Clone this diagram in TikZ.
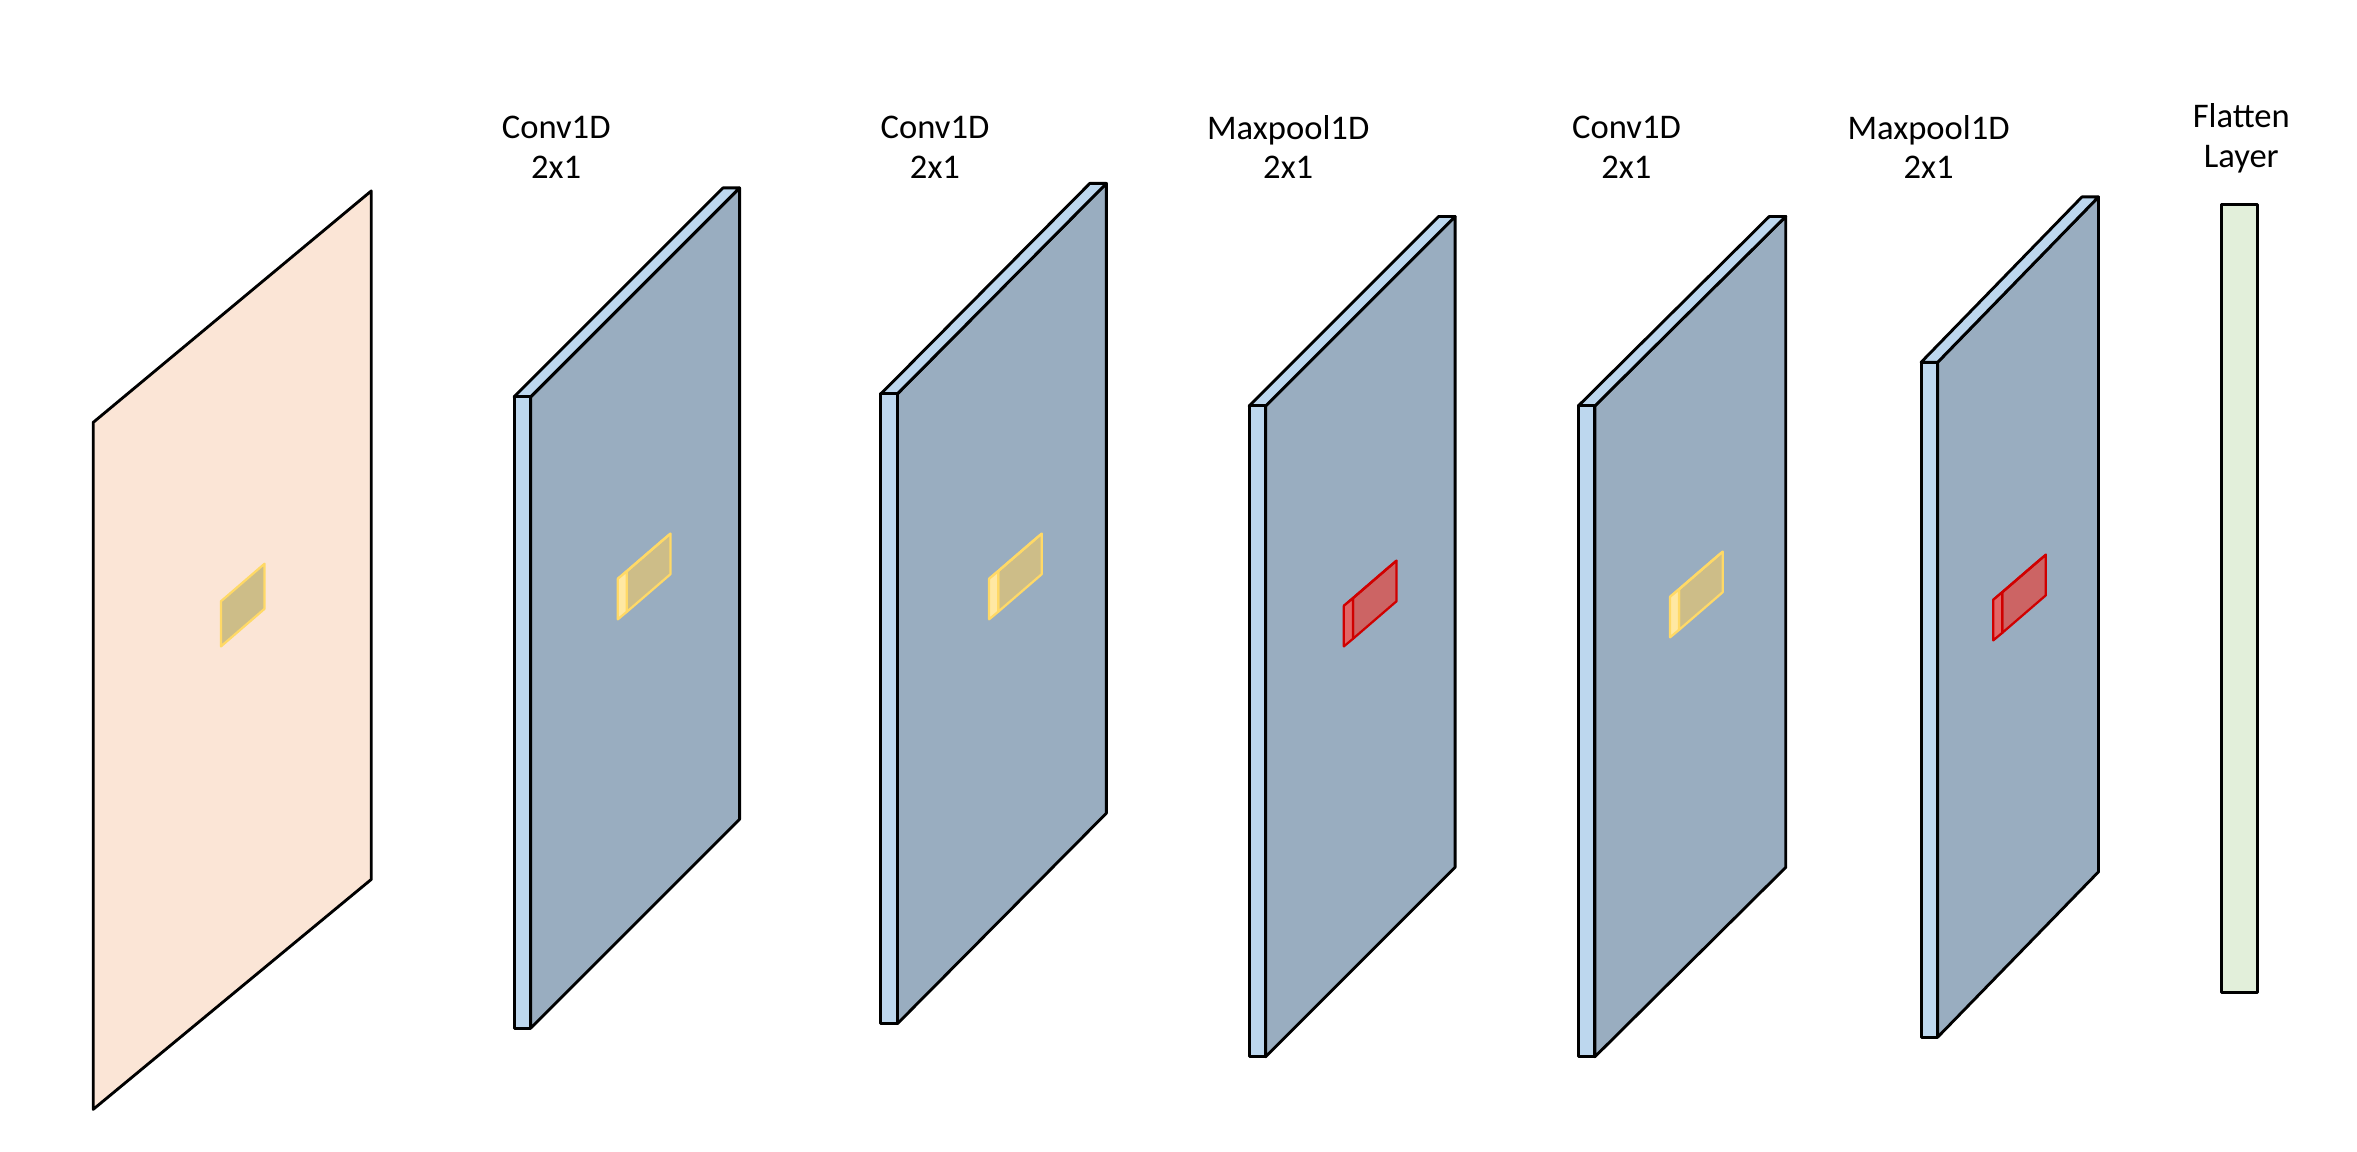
\documentclass[tikz,border=0pt]{standalone}
\usepackage{fontspec}
\setmainfont{Carlito}
\begin{document}
\begin{tikzpicture}[x=1pt,y=-1pt,line join=round,
  edge/.style={draw=black,line width=1.9pt},
  lbl/.style={font=\fontsize{23}{26}\selectfont,align=center}]
\definecolor{peach}{HTML}{FBE5D6}
\definecolor{strip}{HTML}{BDD7EE}
\definecolor{face}{HTML}{99ADC0}
\definecolor{flat}{HTML}{E2EFDA}
\definecolor{ky}{HTML}{FFD966}
\definecolor{kyf}{HTML}{CDBD88}
\definecolor{kr}{HTML}{D00000}
\definecolor{krf}{HTML}{CC6464}
\useasboundingbox (0,0) rectangle (1568,766);
\newcommand{\mylayer}[5]{%
  \fill[face,edge] (#1+11,#2)--(#1+11+#4,#2-#5)--(#1+11+#4,#3-#5)--(#1+11,#3)--cycle;
  \fill[strip,edge] (#1,#2)--(#1+#4,#2-#5)--(#1+11+#4,#2-#5)--(#1+11,#2)--cycle;
  \fill[strip,edge] (#1,#2) rectangle (#1+11,#3);
}
\newcommand{\mykern}[4]{%
  \fill[#4,draw=#3,line width=1.5pt] (#1+6,#2)--(#1+35,#2-25)--(#1+35,#2+2)--(#1+6,#2+27)--cycle;
  \fill[#3!60!white,draw=#3,line width=1.5pt] (#1,#2+5)--(#1+29,#2-20)--(#1+35,#2-25)--(#1+6,#2)--cycle;
  \fill[#3!60!white,draw=#3,line width=1.5pt] (#1,#2+5)--(#1+6,#2)--(#1+6,#2+27)--(#1,#2+32)--cycle;
}
\fill[peach,edge] (62,281)--(247,127)--(247,585)--(62,738)--cycle;
\fill[kyf,draw=ky,line width=1.5pt] (147,400)--(176,375)--(176,405)--(147,430)--cycle;
\mylayer{342}{264}{684}{139}{139}
\mylayer{586}{262}{681}{139}{140}
\mylayer{831}{270}{703}{126}{126}
\mylayer{1050}{270}{703}{127}{126}
\mylayer{1278}{241}{690}{107}{110}
\fill[flat,edge] (1478,136) rectangle (1502,660);
\mykern{411}{380}{ky}{kyf}
\mykern{658}{380}{ky}{kyf}
\mykern{1111}{392}{ky}{kyf}
\mykern{894}{398}{kr}{krf}
\mykern{1326}{394}{kr}{krf}
\node[lbl] (l1) at (370,98) {Conv1D\\2x1};
\node[lbl] (l2) at (622,98) {Conv1D\\2x1};
\node[lbl] (l3) at (857,98) {Maxpool1D\\2x1};
\node[lbl] (l4) at (1082,98) {Conv1D\\2x1};
\node[lbl] (l5) at (1283,98) {Maxpool1D\\2x1};
\node[lbl] (l6) at (1491,92) {Flatten\\Layer};
\end{tikzpicture}
\end{document}
